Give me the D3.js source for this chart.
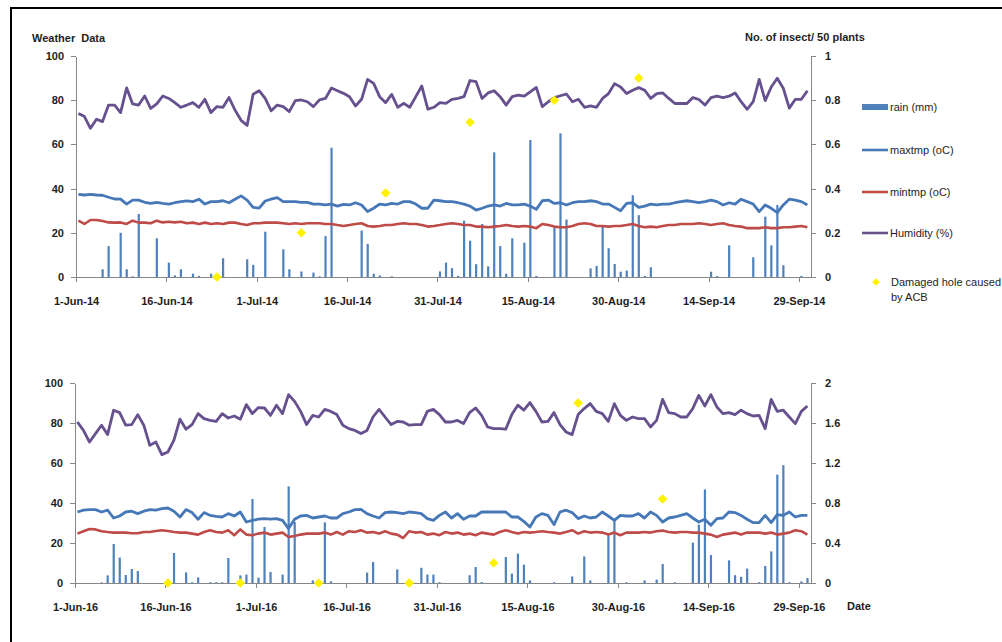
<!DOCTYPE html>
<html>
<head>
<meta charset="utf-8">
<script src="https://cdnjs.cloudflare.com/ajax/libs/d3/7.8.5/d3.min.js"></script>
<style>
    body { margin: 0; background: #fff; }
    svg { display: block; font-family: "Liberation Sans", Arial, sans-serif; }
    .axis path, .axis line { stroke: #868686; shape-rendering: crispEdges; }
    .axis text { font: bold 11px "Liberation Sans", Arial, sans-serif; fill: #1e1e1e; }
    .title { font-size: 11px; font-weight: bold; fill: #1e1e1e; white-space: pre; }
    .legend text { font-size: 11px; fill: #1e1e1e; }
</style>
</head>
<body>
<div id="chart"></div>
<script>
'use strict';

// ---- data (daily, 1 Jun - 30 Sep) ----

const xTicks2014 = ['1-Jun-14', '16-Jun-14', '1-Jul-14', '16-Jul-14', '31-Jul-14', '15-Aug-14', '30-Aug-14', '14-Sep-14', '29-Sep-14'];
const xTicks2016 = ['1-Jun-16', '16-Jun-16', '1-Jul-16', '16-Jul-16', '31-Jul-16', '15-Aug-16', '30-Aug-16', '14-Sep-16', '29-Sep-16'];
const leftTicks = [0, 20, 40, 60, 80, 100];
const rightTicks2014 = [0, 0.2, 0.4, 0.6, 0.8, 1];
const rightTicks2016 = [0, 0.4, 0.8, 1.2, 1.6, 2];

const rain2014 = [
    0, 0, 0, 0, 3.5, 14, 0, 20, 3.5, 0.3,
    28.5, 0, 0, 17.5, 0, 6.5, 0.7, 3.5, 0, 1.5,
    0.5, 0, 1.5, 0, 8.5, 0, 0, 0, 8, 5.5,
    0, 20.5, 0, 0, 12.5, 3.5, 0, 2.5, 0, 2,
    0.3, 18.5, 58.5, 0, 0, 0, 0, 21, 15, 1.5,
    0.7, 0, 0.3, 0, 0, 0, 0, 0, 0, 0,
    2.5, 6.5, 4, 0.5, 25.5, 16.4, 5.8, 24, 4.8, 56.4,
    14, 1.5, 17.5, 0, 15.5, 62, 0.5, 0, 0, 23,
    65, 26, 0, 0, 0, 3.9, 5, 23, 13, 5.9,
    2.4, 2.9, 37, 28, 0.5, 4.4, 0, 0, 0, 0,
    0, 0, 0, 0, 0, 2.4, 0.4, 0, 14.3, 0,
    0, 0, 8.9, 0, 27.3, 14.3, 32.6, 5.3, 0, 0,
    0.5, 0
];

const maxtmp2014 = [
    37.4, 37.1, 37.4, 37.1, 37, 36.1, 35.3, 35.2, 33, 34.8,
    34.8, 33.8, 33.3, 33.8, 33.3, 33, 33.6, 34.1, 34.4, 34.1,
    35.2, 33, 34.1, 34.1, 34.5, 33.6, 35.2, 36.7, 34.8, 31.5,
    31.2, 34.4, 35.2, 35.9, 34.1, 34.1, 34.1, 33.8, 33.8, 33,
    33, 32.6, 33, 32.1, 32.9, 32.6, 33.6, 32.6, 29.6, 31.1,
    33, 32.6, 33.3, 33, 34.1, 34.1, 33, 31.1, 31.1, 34.8,
    34.5, 34.1, 34.1, 33.6, 33, 32.1, 30.3, 31.1, 32.1, 32.6,
    32.1, 33.3, 32.6, 32.6, 33, 32.1, 30.6, 34.5, 34.8, 33.3,
    33.6, 32.6, 33.6, 34.1, 34.1, 34.5, 34.1, 33, 33, 31.5,
    30, 33.3, 33.6, 31.5, 32.1, 33, 32.6, 33, 33, 33.6,
    34.1, 34.5, 34.1, 33.6, 34.1, 34.8, 34.1, 32.6, 33.6, 33,
    35.2, 34.1, 33, 29.6, 32.6, 31.1, 29.1, 32.6, 35.2, 34.8,
    34.1, 32.6
];

const mintmp2014 = [
    25.5, 24, 25.8, 25.8, 25.3, 24.7, 24.6, 24.7, 24, 25.5,
    24.6, 24.6, 24.3, 25.5, 24.7, 25, 24.7, 25, 24.3, 24.6,
    24, 24.6, 24, 24.3, 24, 24.6, 24.6, 24, 23.5, 24.3,
    24.3, 24.6, 24.6, 24.6, 24.3, 24, 24.3, 24, 24.3, 24.3,
    24.3, 24, 24, 23.5, 23.1, 23.5, 24, 24.3, 23.1, 22.8,
    23.1, 23.5, 23.5, 24, 24.3, 24, 24, 23.5, 22.8, 23.1,
    23.5, 24, 24.3, 24, 23.5, 23.5, 22.8, 22.8, 22.5, 22.8,
    23.1, 23.5, 23.1, 22.8, 23.1, 22.8, 22.1, 24, 23.5, 22.8,
    22.5, 22.5, 23.1, 24, 24.3, 24, 23.1, 23.1, 22.8, 23.1,
    23.1, 23.5, 24, 23.1, 22.5, 22.8, 22.5, 23.1, 23.5, 23.5,
    24, 24, 24, 24.3, 24, 23.5, 24, 24.3, 23.5, 23.1,
    22.8, 22.1, 22.1, 22.1, 22.5, 22.1, 22.1, 22.5, 22.5, 22.8,
    23.1, 22.5
];

const humidity2014 = [
    74, 72.6, 67.3, 71.4, 70.3, 77.8, 77.8, 74.4, 85.6, 78.3,
    77.8, 81.9, 76.3, 78.3, 81.9, 80.8, 78.9, 76.8, 77.8, 78.9,
    76.8, 80.4, 74.4, 77.1, 76.8, 81.2, 75.5, 70.9, 68.6, 82.7,
    84.3, 80.8, 75.2, 77.8, 77.1, 74.8, 79.8, 80.1, 79.3, 77.1,
    80.1, 80.8, 85.5, 84.3, 83.1, 81.6, 77.4, 80.4, 89.4, 87.6,
    81.6, 78.9, 82.6, 76.8, 78.6, 76.8, 81.6, 86.4, 75.9, 76.8,
    78.9, 78.6, 80.4, 80.8, 81.6, 88.9, 88.4, 80.8, 83.3, 84.3,
    81.6, 77.8, 81.6, 82.3, 81.8, 83.8, 85.8, 77.1, 79.3, 81.2,
    82, 82.8, 79.3, 80.4, 76.8, 77.4, 76.8, 80.8, 83, 87.5,
    86, 83, 84.5, 85.7, 84.5, 80.8, 83, 83.3, 80.8, 78.5,
    78.5, 78.5, 81.2, 80.3, 77.8, 81.2, 81.8, 81.2, 81.8, 83.3,
    79.3, 75.9, 79.3, 89.4, 79.8, 86, 89.9, 85.4, 76.4, 80.4,
    80.4, 84.3
];

const acbDates2014 = ['24-Jun-14', '8-Jul-14', '22-Jul-14', '5-Aug-14', '19-Aug-14', '2-Sep-14'];
const acb2014 = [0, 0.2, 0.38, 0.7, 0.8, 0.9];

const rain2016 = [
    0, 0, 0, 0, 0.3, 3.8, 19.5, 12.7, 4, 7,
    6, 0, 0, 0, 0, 0, 15, 0, 5.3, 0.4,
    2.8, 0, 0.4, 0.4, 0.4, 12.5, 0, 3.8, 4.2, 42,
    2.7, 28, 5.5, 0, 4.2, 48.3, 30.5, 0, 0, 1.3,
    0, 30.3, 0.8, 0, 0, 0, 0, 0, 5.2, 10.5,
    0, 0, 0, 6.8, 0, 0, 0, 7.6, 4.2, 4.2,
    0.4, 0, 0, 0, 0, 3.9, 8, 0.5, 0, 0,
    0, 13, 4.7, 14.7, 9.2, 1.3, 0, 0, 0, 0.4,
    0, 0, 3.3, 0, 13.3, 1.3, 0, 0, 24.2, 31.3,
    0, 0.4, 0, 0, 1.3, 0, 1.7, 9.5, 0, 0.4,
    0, 0, 20.2, 29.2, 46.8, 14, 0, 0, 11.3, 3.9,
    3.1, 7.2, 0, 0.4, 8.5, 15.8, 54.2, 58.9, 0.4, 0,
    0.8, 2.5
];

const maxtmp2016 = [
    35.5, 36.4, 36.7, 36.7, 35.5, 36.4, 32.5, 33.5, 35.5, 35.9,
    34.7, 35.9, 36.7, 36.4, 37.2, 37.5, 35.9, 33, 36.7, 35.2,
    31.9, 35.2, 33.8, 33.3, 33, 34.7, 33.5, 35.5, 30.5, 31.3,
    31.9, 32.2, 31.9, 32.2, 31.3, 27.2, 31.9, 33.5, 33.8, 32.5,
    33, 33.5, 32.5, 32.5, 34.7, 35.5, 36.7, 36.8, 34.7, 33.5,
    32.5, 35.2, 35.5, 35.2, 34.7, 35.5, 35.2, 34.7, 32.2, 31.3,
    33.8, 35.5, 32.5, 34.7, 31.9, 33.5, 33.5, 35.5, 35.5, 35.5,
    35.5, 35.5, 33, 33, 30.8, 28, 33, 34.7, 33.8, 29.2,
    35.5, 36.4, 35.2, 32.2, 33.5, 32.5, 33, 35.5, 33.5, 31.3,
    33.8, 33.5, 33.5, 34.7, 32.5, 35.5, 33.8, 30.5, 32.5, 33,
    33.8, 34.7, 32.5, 30.5, 31.9, 28.9, 32.2, 32.5, 35.5, 35.2,
    33.8, 31.9, 30.2, 30.2, 33.8, 30.2, 34.2, 33.8, 35.5, 33,
    33.8, 33.8
];

const mintmp2016 = [
    24.7, 25.9, 27, 26.8, 25.9, 25.5, 25.2, 25.2, 25.2, 24.9,
    24.9, 25.5, 25.5, 26, 26.4, 26, 25.5, 25.2, 25.2, 24.7,
    24.2, 25.5, 26.4, 25.5, 25.2, 26.4, 23.9, 26.8, 24.2, 23.9,
    24.7, 25.2, 24.2, 24.7, 25.2, 23, 23.5, 24.2, 24.7, 24.7,
    24.7, 25.2, 24.2, 25.5, 24.2, 25.9, 25.5, 26.4, 25.2, 25.5,
    24.7, 25.9, 24.7, 24.2, 22.5, 25.9, 25.2, 25.5, 24.2, 24.7,
    23.9, 25.5, 24.7, 25.2, 24.2, 24.7, 23.9, 25.2, 24.7, 24.2,
    25.5, 26.4, 25.5, 24.7, 25.5, 25.2, 25.5, 25.9, 25.5, 25.2,
    24.7, 25.5, 26.4, 24.7, 25.9, 25.2, 25.5, 25.2, 24.2, 25.2,
    23.9, 25.2, 25.2, 25.2, 25.5, 25.2, 25.9, 26.2, 25.5, 25.2,
    25.5, 25.5, 25.2, 25.2, 24.7, 24.2, 23, 24.2, 24.7, 25.2,
    24.2, 25.2, 25.2, 25.2, 24.7, 25.2, 24.2, 24.7, 25.2, 26.4,
    25.9, 24.2
];

const humidity2016 = [
    80.5, 76.3, 70.5, 74.7, 78.9, 74.2, 86.4, 85.2, 78.9, 79.2,
    84.2, 78.9, 68.8, 70.5, 64.2, 65.5, 71.4, 81.9, 76.9, 79.2,
    84.7, 82.2, 81.3, 80.8, 84.7, 82.5, 83.5, 81.9, 89.2, 84.7,
    87.7, 87.5, 83.8, 88.9, 84.7, 94.2, 90.8, 85.8, 79.2, 83.8,
    83, 86.8, 85.8, 84.2, 78.9, 77.2, 76.3, 74.7, 76.3, 83,
    86.8, 83, 79.2, 80.8, 80.5, 78.9, 79.2, 79.2, 85.8, 86.8,
    84.2, 80.5, 80.5, 81.3, 79.7, 85.2, 87.5, 83.8, 78, 77.2,
    77.2, 76.9, 84.2, 88.9, 86.4, 90.2, 85.8, 80.5, 80.8, 85.2,
    79.2, 75.5, 74.2, 84.2, 87.2, 89.7, 85.8, 84.7, 80.8, 89.7,
    83.8, 81.3, 83, 82.2, 82.2, 78, 81.3, 91.8, 85.2, 84.7,
    83, 83, 87.2, 93.8, 88.5, 94.2, 88, 84.7, 85.2, 84.2,
    86.4, 84.7, 83.5, 83.8, 77.2, 91.8, 85.8, 86.4, 83, 79.7,
    85.8, 88.5
];

const acbDates2016 = ['16-Jun-16', '28-Jun-16', '11-Jul-16', '26-Jul-16', '9-Aug-16', '23-Aug-16', '6-Sep-16'];
const acb2016 = [0, 0, 0, 0, 0.2, 1.8, 0.84];

const legendNames = ['rain (mm)', 'maxtmp (oC)', 'mintmp (oC)', 'Humidity (%)'];
const legendAcb = ['Damaged hole caused', 'by ACB'];


const parse_date = d3.timeParse('%d-%b-%y');

const colors = {
    rain: '#4f81bd',
    maxtmp: '#4678b8',
    mintmp: '#be4b48',
    humidity: '#66508e',
    acb: '#fff200'
};

function fmt_right(d) {
    return String(+d.toFixed(1));
}

function panel(svg, data, dim) {
    const start = parse_date(data.xTicks[0]);
    const end = d3.timeMonth.offset(start, 4);
    const days = d3.timeDay.range(start, end);

    const xScale = d3.scaleTime()
        .domain([start, end])
        .range([dim.left, dim.right]);

    // points sit a little inside each day's slot, like the Excel date axis
    const slot = (dim.right - dim.left) / days.length;
    const xPos = (d) => xScale(d) + slot * 0.4;

    const yScale = d3.scaleLinear()
        .domain([0, 100])
        .range([dim.bottom, dim.top]);

    const y2Scale = d3.scaleLinear()
        .domain([0, data.rightTicks[data.rightTicks.length - 1]])
        .range([dim.bottom, dim.top]);

    const g = svg.append('g');

    g.append('g')
        .attr('class', 'axis')
        .attr('transform', `translate(${dim.left},0)`)
        .call(d3.axisLeft(yScale).tickValues(leftTicks).tickSize(5).tickSizeOuter(0).tickPadding(7));

    g.append('g')
        .attr('class', 'axis')
        .attr('transform', `translate(${dim.right},0)`)
        .call(d3.axisRight(y2Scale).tickValues(data.rightTicks).tickFormat(fmt_right)
            .tickSize(5).tickSizeOuter(0).tickPadding(9));

    g.append('g')
        .attr('class', 'axis')
        .attr('transform', `translate(0,${dim.bottom})`)
        .call(d3.axisBottom(xScale)
            .tickValues(data.xTicks.map(parse_date))
            .tickFormat((d, i) => data.xTicks[i])
            .tickSize(5).tickSizeOuter(0).tickPadding(15));

    // rain bars
    const rainDays = days.map((d, i) => ({date: d, value: data.rain[i]}))
        .filter((d) => d.value > 0);

    g.selectAll('.rain')
        .data(rainDays)
        .enter()
        .append('rect')
        .attr('class', 'rain')
        .attr('x', (d) => xPos(d.date) - 1)
        .attr('y', (d) => yScale(d.value))
        .attr('width', 2.2)
        .attr('height', (d) => dim.bottom - yScale(d.value))
        .attr('fill', colors.rain);

    const line = d3.line()
        .x((d, i) => xPos(days[i]))
        .y((d) => yScale(d));

    [['maxtmp', 2.8], ['mintmp', 2.6], ['humidity', 2.8]].forEach(([key, w]) => {
        g.append('path')
            .datum(data[key])
            .attr('d', line)
            .attr('fill', 'none')
            .attr('stroke', colors[key])
            .attr('stroke-width', w)
            .attr('stroke-linejoin', 'round');
    });

    // damaged holes caused by ACB, secondary axis
    const acbPoints = data.acbDates.map((s, i) => ({date: parse_date(s), value: data.acb[i]}));

    g.selectAll('.acb')
        .data(acbPoints)
        .enter()
        .append('path')
        .attr('class', 'acb')
        .attr('d', d3.symbol(d3.symbolSquare, 46))
        .attr('transform', (d) => `translate(${xPos(d.date)},${y2Scale(d.value)}) rotate(45)`)
        .attr('fill', colors.acb);
}

function legend(svg) {
    const lg = svg.append('g').attr('class', 'legend');
    const keys = ['rain', 'maxtmp', 'mintmp', 'humidity'];
    const rows = [107, 150, 192, 233];

    keys.forEach((key, i) => {
        if (key === 'rain') {
            lg.append('rect')
                .attr('x', 862).attr('y', rows[i] - 3)
                .attr('width', 26).attr('height', 6)
                .attr('fill', colors.rain);
        } else {
            lg.append('line')
                .attr('x1', 862).attr('x2', 888)
                .attr('y1', rows[i]).attr('y2', rows[i])
                .attr('stroke', colors[key])
                .attr('stroke-width', 2.6);
        }
        lg.append('text')
            .attr('x', 890).attr('y', rows[i])
            .attr('dy', '0.35em')
            .text(legendNames[i]);
    });

    lg.append('path')
        .attr('d', d3.symbol(d3.symbolSquare, 30))
        .attr('transform', 'translate(876,282) rotate(45)')
        .attr('fill', colors.acb);

    legendAcb.forEach((t, i) => {
        lg.append('text')
            .attr('x', 891).attr('y', 282 + i * 15)
            .attr('dy', '0.35em')
            .text(t);
    });
}


const svg = d3.select('#chart')
    .append('svg')
    .attr('width', 1002)
    .attr('height', 642);

// frame
svg.append('rect')
    .attr('x', 11).attr('y', 8)
    .attr('width', 1010).attr('height', 660)
    .attr('fill', 'none')
    .attr('stroke', '#000')
    .attr('stroke-width', 2);

svg.append('text').attr('class', 'title')
    .attr('x', 32).attr('y', 38).attr('dy', '0.35em')
    .text('Weather  Data');

svg.append('text').attr('class', 'title')
    .attr('x', 745).attr('y', 37).attr('dy', '0.35em')
    .text('No. of insect/ 50 plants');

svg.append('text').attr('class', 'title')
    .attr('x', 847).attr('y', 606).attr('dy', '0.35em')
    .text('Date');

panel(svg, {
    xTicks: xTicks2014,
    rightTicks: rightTicks2014,
    rain: rain2014,
    maxtmp: maxtmp2014,
    mintmp: mintmp2014,
    humidity: humidity2014,
    acbDates: acbDates2014,
    acb: acb2014
}, {left: 76, right: 811, top: 56, bottom: 277});

panel(svg, {
    xTicks: xTicks2016,
    rightTicks: rightTicks2016,
    rain: rain2016,
    maxtmp: maxtmp2016,
    mintmp: mintmp2016,
    humidity: humidity2016,
    acbDates: acbDates2016,
    acb: acb2016
}, {left: 75, right: 811, top: 383, bottom: 583});

legend(svg);
</script>
</body>
</html>
